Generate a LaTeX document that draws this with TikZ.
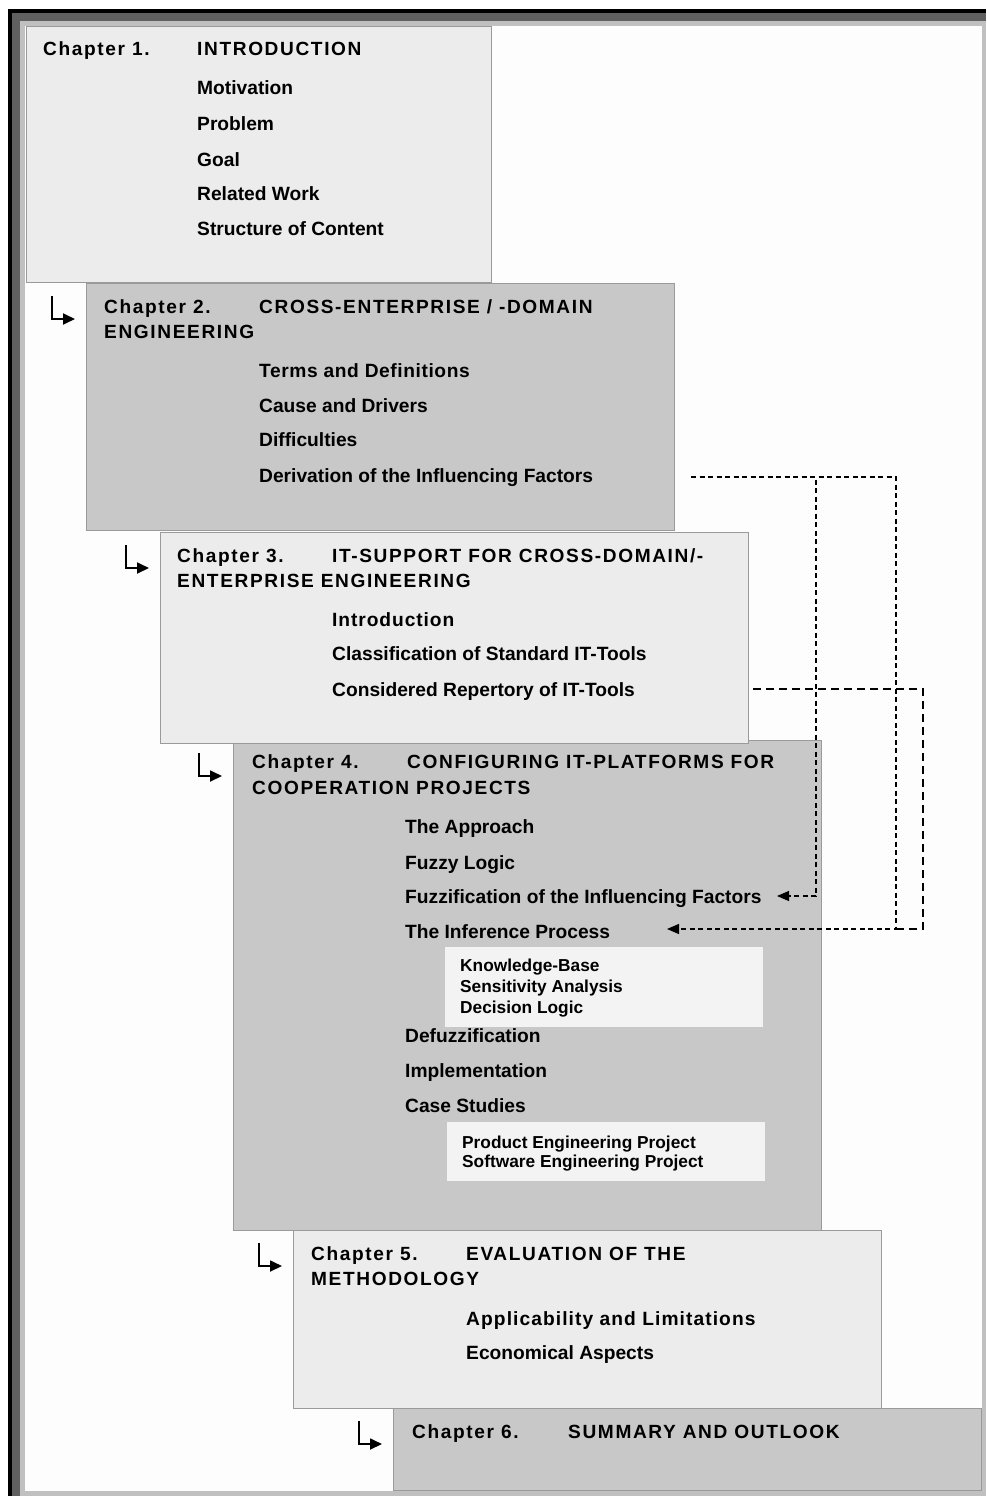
\documentclass[tikz,border=0pt]{standalone}
\usepackage{fontspec}
\setmainfont{Liberation Sans}
\newfontfamily\headfont[LetterSpace=8.5]{Liberation Sans}
\usetikzlibrary{arrows.meta}
\definecolor{paleg}{HTML}{ECECEC}
\definecolor{midg}{HTML}{C8C8C8}
\definecolor{boxline}{HTML}{9A9A9A}
\definecolor{subg}{HTML}{F3F3F3}
\definecolor{framedark}{HTML}{606060}
\definecolor{framelight}{HTML}{C0C0C0}
\definecolor{paper}{HTML}{FDFDFD}
\begin{document}
\begin{tikzpicture}[x=1pt,y=-1pt,
  chapbox/.style={draw=boxline,line width=1pt,anchor=north west,inner sep=0pt,outer sep=0pt},
  subbox/.style={fill=subg,anchor=north west,inner sep=0pt,outer sep=0pt},
  head/.style={anchor=base west,inner sep=0pt,font=\headfont\bfseries\fontsize{19.1}{22}\selectfont},
  item/.style={anchor=base west,inner sep=0pt,font=\bfseries\fontsize{19.2}{22}\selectfont},
  spaced/.style={item,font=\bfseries\fontsize{19.2}{22}\selectfont\addfontfeature{LetterSpace=#1}},
  small/.style={anchor=base west,inner sep=0pt,font=\bfseries\fontsize{17.3}{20}\selectfont},
  hook/.style={line width=1.8pt,-{Triangle[length=12pt,width=11pt]}},
  thinlink/.style={line width=1.2pt,dash pattern=on 5pt off 3.5pt},
  thicklink/.style={line width=1.5pt,dash pattern=on 8pt off 5pt},
  tip/.style={-{Triangle[length=12pt,width=10pt]}}]

% window frame
\useasboundingbox (0,0) rectangle (986,1496);
\fill[white] (0,0) rectangle (986,1496);
\fill[black] (8,9) rectangle (986,1496);
\fill[framedark] (12,13) rectangle (986,1496);
\fill[framelight] (20,21) rectangle (986,1496);
\fill[paper] (25,26) rectangle (982,1491);

% chapter boxes
\node[chapbox,fill=paleg,minimum width=465pt,minimum height=255pt] (ch1) at (26,27) {};
\node[chapbox,fill=midg,minimum width=588pt,minimum height=247pt] (ch2) at (86,283) {};
\node[chapbox,fill=midg,minimum width=588pt,minimum height=490pt] (ch4) at (233,740) {};
\node[chapbox,fill=paleg,minimum width=588pt,minimum height=211pt] (ch3) at (160,532) {};
\node[chapbox,fill=paleg,minimum width=588pt,minimum height=178pt] (ch5) at (293,1230) {};
\node[chapbox,fill=midg,minimum width=588pt,minimum height=82pt] (ch6) at (393,1408) {};

% inner boxes of chapter 4
\node[subbox,minimum width=318pt,minimum height=80pt] (inf) at (445,947) {};
\node[subbox,minimum width=318pt,minimum height=59pt] (cases) at (447,1122) {};

% chapter 1
\node[head] (c1) at (43,56) {Chapter 1.};
\node[head] (c1t) at (197,56) {INTRODUCTION};
\node[item] (c1a) at (197,95) {Motivation};
\node[item] (c1b) at (197,130) {Problem};
\node[item] (c1c) at (197,166) {Goal};
\node[item] (c1d) at (197,200) {Related Work};
\node[item] (c1e) at (197,235) {Structure of Content};

% chapter 2
\node[head] (c2) at (104,313) {Chapter 2.};
\node[head] (c2t) at (259,313) {CROSS-ENTERPRISE / -DOMAIN};
\node[head] (c2u) at (104,338) {ENGINEERING};
\node[spaced=3] (c2a) at (259,377) {Terms and Definitions};
\node[item] (c2b) at (259,412) {Cause and Drivers};
\node[item] (c2c) at (259,446) {Difficulties};
\node[item] (c2d) at (259,482) {Derivation of the Influencing Factors};

% chapter 3
\node[head] (c3) at (177,562) {Chapter 3.};
\node[head] (c3t) at (332,562) {IT-SUPPORT FOR CROSS-DOMAIN/-};
\node[head] (c3u) at (177,587) {ENTERPRISE ENGINEERING};
\node[spaced=4.8] (c3a) at (332,626) {Introduction};
\node[item] (c3b) at (332,660) {Classification of Standard IT-Tools};
\node[item] (c3c) at (332,696) {Considered Repertory of IT-Tools};

% chapter 4
\node[head] (c4) at (252,768) {Chapter 4.};
\node[head] (c4t) at (407,768) {CONFIGURING IT-PLATFORMS FOR};
\node[head] (c4u) at (252,794) {COOPERATION PROJECTS};
\node[item] (c4a) at (405,833) {The Approach};
\node[item] (c4b) at (405,869) {Fuzzy Logic};
\node[item] (c4c) at (405,903) {Fuzzification of the Influencing Factors};
\node[item] (c4d) at (405,938) {The Inference Process};
\node[small] (c4d1) at (460,971) {Knowledge-Base};
\node[small] (c4d2) at (460,992) {Sensitivity Analysis};
\node[small] (c4d3) at (460,1013) {Decision Logic};
\node[item] (c4e) at (405,1042) {Defuzzification};
\node[item] (c4f) at (405,1077) {Implementation};
\node[item] (c4g) at (405,1112) {Case Studies};
\node[small] (c4g1) at (462,1148) {Product Engineering Project};
\node[small] (c4g2) at (462,1167) {Software Engineering Project};

% chapter 5
\node[head] (c5) at (311,1260) {Chapter 5.};
\node[head] (c5t) at (466,1260) {EVALUATION OF THE};
\node[head] (c5u) at (311,1285) {METHODOLOGY};
\node[spaced=5.6] (c5a) at (466,1325) {Applicability and Limitations};
\node[item] (c5b) at (466,1359) {Economical Aspects};

% chapter 6
\node[head] (c6) at (412,1438) {Chapter 6.};
\node[head] (c6t) at (568,1438) {SUMMARY AND OUTLOOK};

% hook arrows leading into each following chapter
\coordinate (h2) at (52,296);   \coordinate (e2) at (75,319);
\coordinate (h3) at (126,545);  \coordinate (e3) at (149,568);
\coordinate (h4) at (199,753);  \coordinate (e4) at (222,776);
\coordinate (h5) at (259,1243); \coordinate (e5) at (282,1266);
\coordinate (h6) at (359,1421); \coordinate (e6) at (382,1444);
\draw[hook] (h2) |- (e2);
\draw[hook] (h3) |- (e3);
\draw[hook] (h4) |- (e4);
\draw[hook] (h5) |- (e5);
\draw[hook] (h6) |- (e6);

% dashed cross references
\coordinate (derivOut) at (691,477);
\coordinate (reperOut) at (753,689);
\coordinate (k1) at (816,896);
\coordinate (k2) at (896,929);
\coordinate (k3) at (923,929);
\coordinate (fuzzIn) at (777,896);
\coordinate (infIn) at (667,929);
\draw[thinlink,tip] (derivOut) -| (k1) -- (fuzzIn);
\draw[thinlink,tip] (derivOut) -| (k2) -- (infIn);
\draw[thicklink] (reperOut) -| (k3) -- (k2);
\end{tikzpicture}
\end{document}
